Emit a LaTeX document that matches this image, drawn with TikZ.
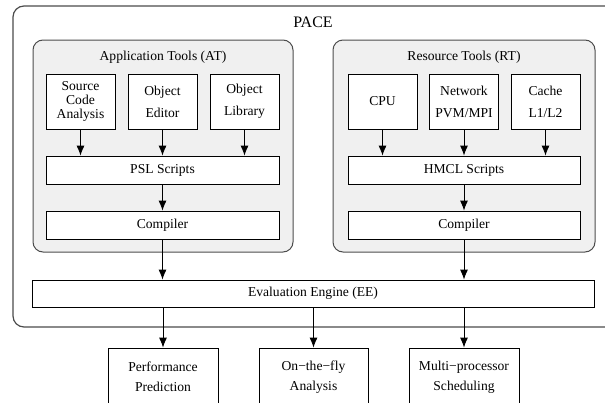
\documentclass[tikz,border=0pt]{standalone}
\usepackage{fontspec}
\setmainfont{Liberation Serif}
\usetikzlibrary{arrows.meta}
\tikzset{
  box/.style={draw, fill=white, line width=0.8pt, align=center, inner sep=0pt},
  panel/.style={draw=black!70, fill=black!6, line width=1pt, rounded corners=10pt},
  flow/.style={-{Latex[length=10pt,width=8pt]}, line width=0.9pt},
}
\begin{document}
\begin{tikzpicture}[x=1pt,y=-1pt,font=\fontsize{13.6}{14}\selectfont]
  \useasboundingbox (0,0) rectangle (605,402);
  \clip (0,0) rectangle (605,402);
  % outer frame
  \draw [black!70, line width=1.2pt, rounded corners=11pt] (13,6) rectangle (640,327);
  \node (pace) at (313,22) {\fontsize{16}{16}\selectfont PACE};
  % two tool panels
  \draw [panel] (33,40) rectangle (293,252);
  \draw [panel] (333,40) rectangle (595,252);
  \node (at) at (163,57) {Application Tools (AT)};
  \node (rt) at (464,57) {Resource Tools (RT)};
  % application tools
  \node [box, minimum width=69pt, minimum height=55pt] (src) at (80.5,101.5) {Source\\Code\\Analysis};
  \node [box, minimum width=69pt, minimum height=55pt] (edit) at (162.5,101.5) {Object\\[8pt]Editor};
  \node [box, minimum width=69pt, minimum height=55pt] (lib) at (244.5,101.5) {Object\\[8pt]Library};
  \node [box, minimum width=233pt, minimum height=28pt] (psl) at (162.5,170) {PSL Scripts};
  \node [box, minimum width=233pt, minimum height=28pt] (compa) at (162.5,225) {Compiler};
  % resource tools
  \node [box, minimum width=69pt, minimum height=55pt] (cpu) at (382.5,101.5) {CPU};
  \node [box, minimum width=69pt, minimum height=55pt] (net) at (464,101.5) {Network\\[8pt]PVM/MPI};
  \node [box, minimum width=69pt, minimum height=55pt] (cache) at (545.5,101.5) {Cache\\[8pt]L1/L2};
  \node [box, minimum width=232pt, minimum height=28pt] (hmcl) at (464,170) {HMCL Scripts};
  \node [box, minimum width=232pt, minimum height=28pt] (compr) at (464,225) {Compiler};
  % evaluation engine and outputs
  \node [box, minimum width=562pt, minimum height=27pt] (ee) at (313,293.5) {Evaluation Engine (EE)};
  \node [box, minimum width=110pt, minimum height=58pt] (perf) at (163,377) {Performance\\[6pt]Prediction};
  \node [box, minimum width=109pt, minimum height=58pt] (fly) at (313.5,377) {On−the−fly\\[6pt]Analysis};
  \node [box, minimum width=110pt, minimum height=58pt] (sched) at (464,377) {Multi−processor\\[6pt]Scheduling};
  % arrows
  \draw [flow] (src) -- (src |- psl.north);
  \draw [flow] (edit) -- (psl);
  \draw [flow] (lib) -- (lib |- psl.north);
  \draw [flow] (psl) -- (compa);
  \draw [flow] (cpu) -- (cpu |- hmcl.north);
  \draw [flow] (net) -- (hmcl);
  \draw [flow] (cache) -- (cache |- hmcl.north);
  \draw [flow] (hmcl) -- (compr);
  \draw [flow] (compa) -- (compa |- ee.north);
  \draw [flow] (compr) -- (compr |- ee.north);
  \draw [flow] (perf |- ee.south) -- (perf);
  \draw [flow] (fly |- ee.south) -- (fly);
  \draw [flow] (sched |- ee.south) -- (sched);
\end{tikzpicture}
\end{document}
